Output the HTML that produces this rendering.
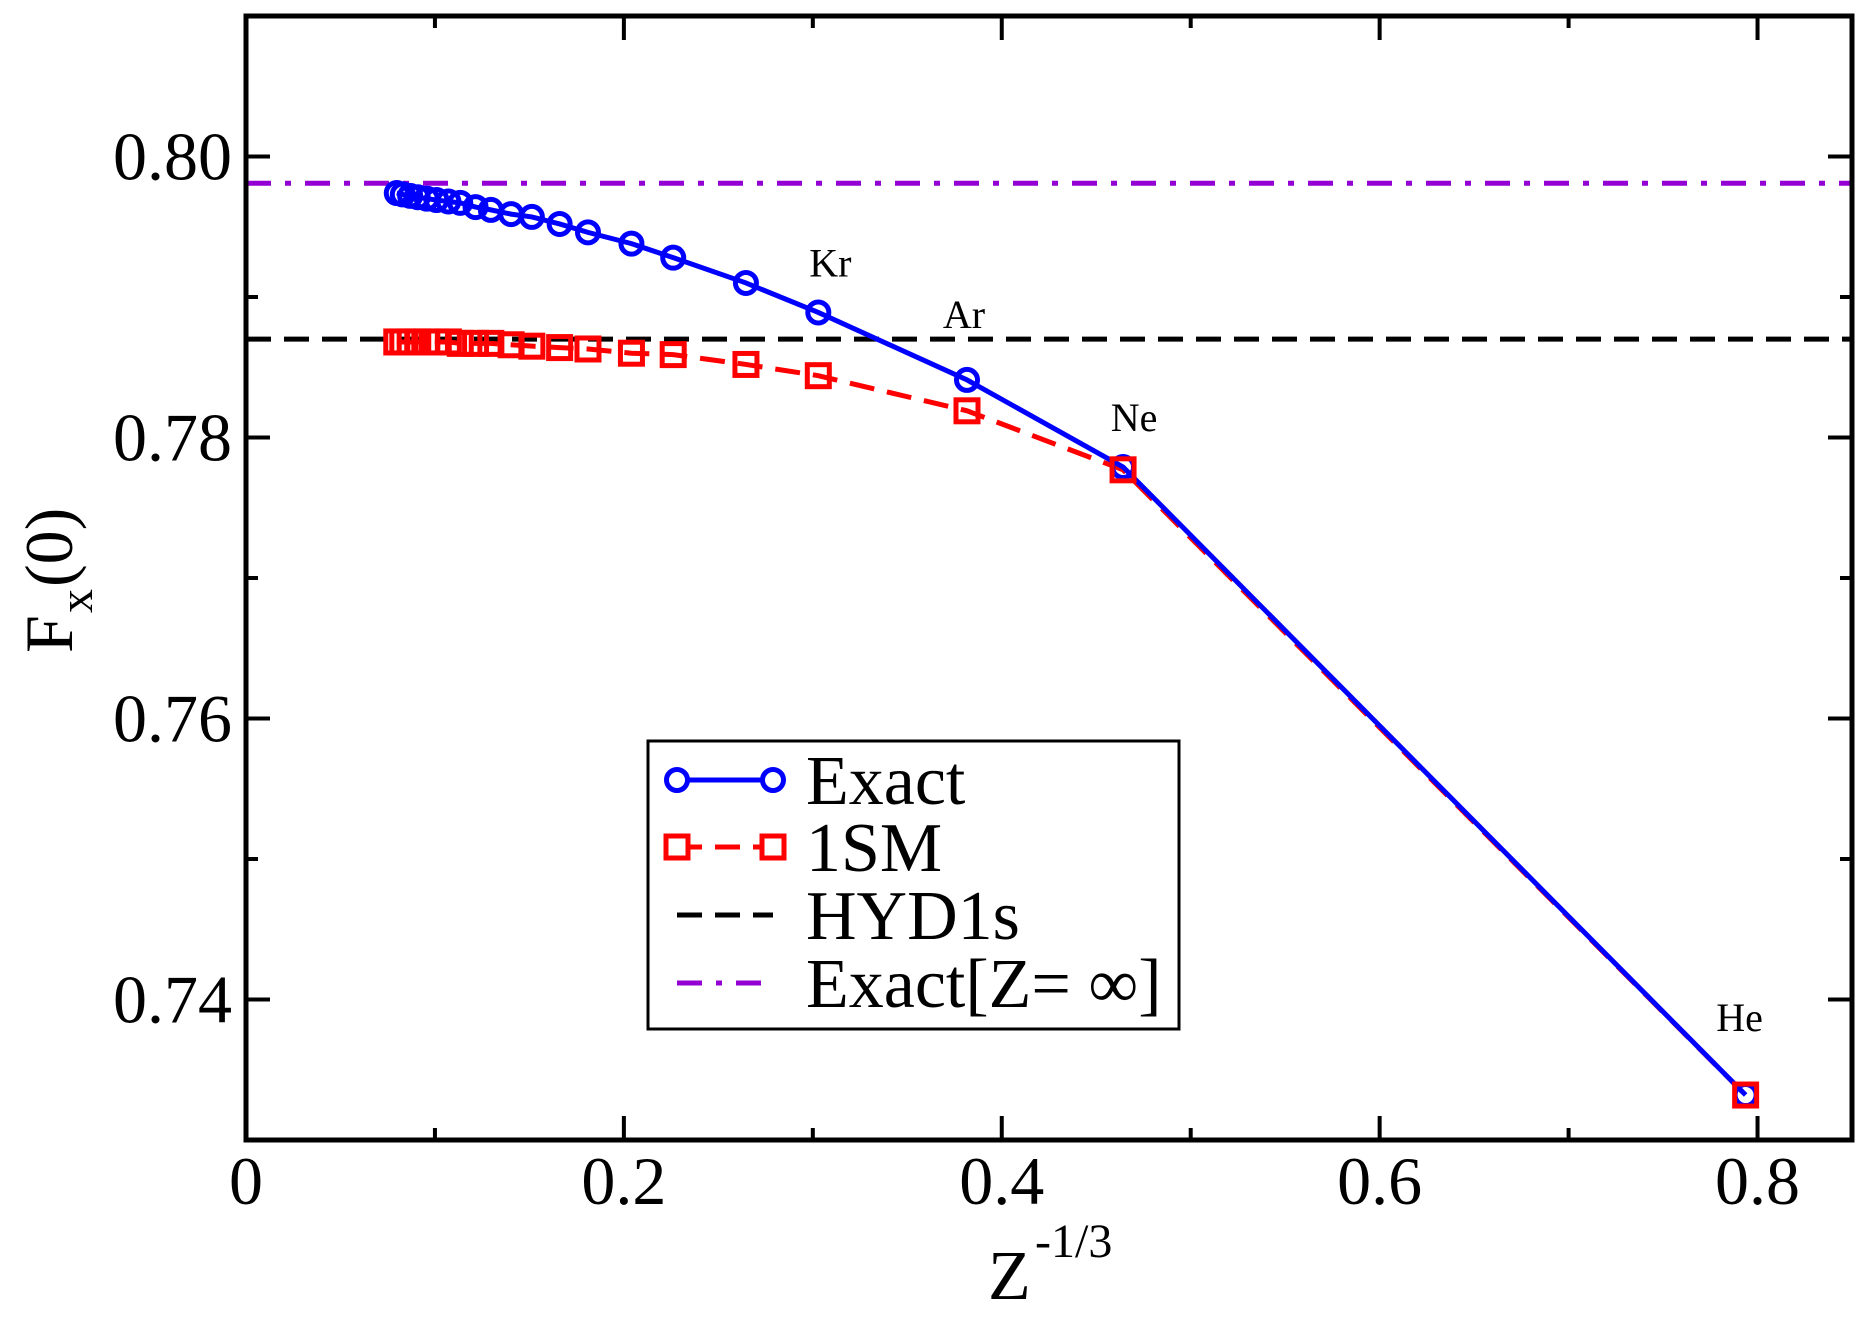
<!DOCTYPE html>
<html><head><meta charset="utf-8"><style>
html,body{margin:0;padding:0;background:#fff;}
svg{display:block;font-family:"Liberation Serif",serif;}
</style></head><body>
<svg id="chart" width="1869" height="1321" viewBox="0 0 1869 1321" xmlns="http://www.w3.org/2000/svg">
<g id="marks"></g>
<g id="axes"></g>
</svg>
<script>
const exactX=[0.0798,0.0830,0.0869,0.0909,0.0957,0.1008,0.1071,0.1134,0.1215,0.1296,0.1403,0.1513,0.1660,0.1810,0.2040,0.2261,0.2646,0.3029,0.3816,0.4642,0.7937];
const exactY=[0.7974,0.7973,0.7972,0.7971,0.7970,0.7969,0.7968,0.7967,0.7964,0.7962,0.7959,0.7957,0.7952,0.7946,0.7938,0.7928,0.7910,0.7889,0.7841,0.7779,0.7332];
const smY=[0.7868,0.7868,0.7868,0.7868,0.7868,0.7868,0.7868,0.7867,0.7867,0.7867,0.7866,0.7865,0.7864,0.7863,0.7860,0.7859,0.7852,0.7844,0.7819,0.7777,0.7332];
const hydVal=[0.7870];
const infVal=[0.7981];
const xTicks=[0,0.2,0.4,0.6,0.8];
const xTickLabels=["0","0.2","0.4","0.6","0.8"];
const yTicks=[0.74,0.76,0.78,0.80];
const yTickLabels=["0.74","0.76","0.78","0.80"];
const atomLabels=["Kr","Ar","Ne","He"];
const atomIdx=[17,18,19,20];

const L=246,R=1852,T=16,B=1140;
const xMin=0,xMax=0.85,yMin=0.73,yMax=0.81;
const sx=v=>L+(v-xMin)/(xMax-xMin)*(R-L);
const sy=v=>B-(v-yMin)/(yMax-yMin)*(B-T);
const NS="http://www.w3.org/2000/svg";
function mk(tag,attrs,parent){const e=document.createElementNS(NS,tag);for(const k in attrs)e.setAttribute(k,attrs[k]);parent.appendChild(e);return e;}
const marks=document.getElementById('marks'),axes=document.getElementById('axes');

let l=mk('line',{x1:L,x2:R,y1:sy(infVal[0]),y2:sy(infVal[0]),stroke:'#9400d3','stroke-width':5,'stroke-dasharray':'25 14 6 14'},marks);


l=mk('line',{x1:L,x2:R,y1:sy(hydVal[0]),y2:sy(hydVal[0]),stroke:'#000','stroke-width':5,'stroke-dasharray':'25 13'},marks);



let p=mk('polyline',{points:exactX.map((x,i)=>sx(x)+','+sy(smY[i])).join(' '),fill:'none',stroke:'#ff0000','stroke-width':5,'stroke-dasharray':'25 13'},marks);


p=mk('polyline',{points:exactX.map((x,i)=>sx(x)+','+sy(exactY[i])).join(' '),fill:'none',stroke:'#0000ff','stroke-width':5},marks);


exactX.forEach((x,i)=>{
  const c=mk('circle',{cx:sx(x),cy:sy(exactY[i]),r:10.5,fill:'none',stroke:'#0000ff','stroke-width':5},marks);
  
  
});
exactX.forEach((x,i)=>{
  const r=mk('rect',{x:sx(x)-11,y:sy(smY[i])-11,width:22,height:22,fill:'none',stroke:'#ff0000','stroke-width':5},marks);
  
  
});
const offs=[[12,-36],[-3,-52],[11,-36],[-6,-64]];
atomLabels.forEach((s,i)=>{
  const k=atomIdx[i];
  const t=mk('text',{x:sx(exactX[k])+offs[i][0],y:sy(exactY[k])+offs[i][1],'font-size':40,'text-anchor':'middle'},marks);
  t.textContent=s;
  
  
});

let f=mk('rect',{x:L,y:T,width:R-L,height:B-T,fill:'none',stroke:'#000','stroke-width':5},axes);


for(let i=0;i<=8;i++){
  const v=i*0.1,major=i%2==0,len=major?24:12,X=sx(v);
  mk('line',{x1:X,x2:X,y1:B,y2:B-len,stroke:'#000','stroke-width':4},axes);
  mk('line',{x1:X,x2:X,y1:T,y2:T+len,stroke:'#000','stroke-width':4},axes);
}
for(let i=0;i<=8;i++){
  const v=yMin+i*0.01,major=i%2==1,len=major?24:12,Y=sy(v);
  mk('line',{x1:L,x2:L+len,y1:Y,y2:Y,stroke:'#000','stroke-width':4},axes);
  mk('line',{x1:R,x2:R-len,y1:Y,y2:Y,stroke:'#000','stroke-width':4},axes);
}
xTicks.forEach((v,i)=>{
  const t=mk('text',{x:sx(v),y:1204,'font-size':68,'text-anchor':'middle'},axes);
  t.textContent=xTickLabels[i];
  
  
});
yTicks.forEach((v,i)=>{
  const t=mk('text',{x:232,y:sy(v)+23,'font-size':68,'text-anchor':'end'},axes);
  t.textContent=yTickLabels[i];
  
  
});
</script>
<svg style="position:absolute;left:0;top:0" width="1869" height="1321" xmlns="http://www.w3.org/2000/svg" font-family="Liberation Serif, serif">
<g>
<text x="988" y="1299" font-size="70">Z</text>
<text x="1035" y="1257" font-size="48">-1/3</text>
</g>
<g transform="translate(72,573) rotate(-90)">
<text x="-80" y="0" font-size="68">F</text>
<text x="-40" y="20" font-size="48">x</text>
<text x="-14" y="0" font-size="68">(0)</text>
</g>
<g>
<rect x="648" y="741" width="531" height="288" fill="#fff" stroke="#000" stroke-width="3"/>
<g>
<line x1="677" x2="773" y1="780" y2="780" stroke="#0000ff" stroke-width="5"/>
<circle cx="677" cy="780" r="10.5" fill="#fff" stroke="#0000ff" stroke-width="5"/>
<circle cx="773" cy="780" r="10.5" fill="#fff" stroke="#0000ff" stroke-width="5"/>
<text x="806" y="804" font-size="70">Exact</text></g>
<g>
<line x1="677" x2="773" y1="847" y2="847" stroke="#ff0000" stroke-width="5" stroke-dasharray="25 13"/>
<rect x="666" y="836" width="22" height="22" fill="#fff" stroke="#ff0000" stroke-width="5"/>
<rect x="762" y="836" width="22" height="22" fill="#fff" stroke="#ff0000" stroke-width="5"/>
<text x="806" y="871" font-size="70">1SM</text></g>
<g>
<line x1="677" x2="773" y1="915" y2="915" stroke="#000" stroke-width="5" stroke-dasharray="25 13"/>
<text x="806" y="939" font-size="70">HYD1s</text></g>
<g>
<line x1="677" x2="773" y1="983" y2="983" stroke="#9400d3" stroke-width="5" stroke-dasharray="25 14 6 14"/>
<text x="806" y="1007" font-size="70">Exact[Z= ∞]</text></g>
</g>
</svg>
</body></html>
